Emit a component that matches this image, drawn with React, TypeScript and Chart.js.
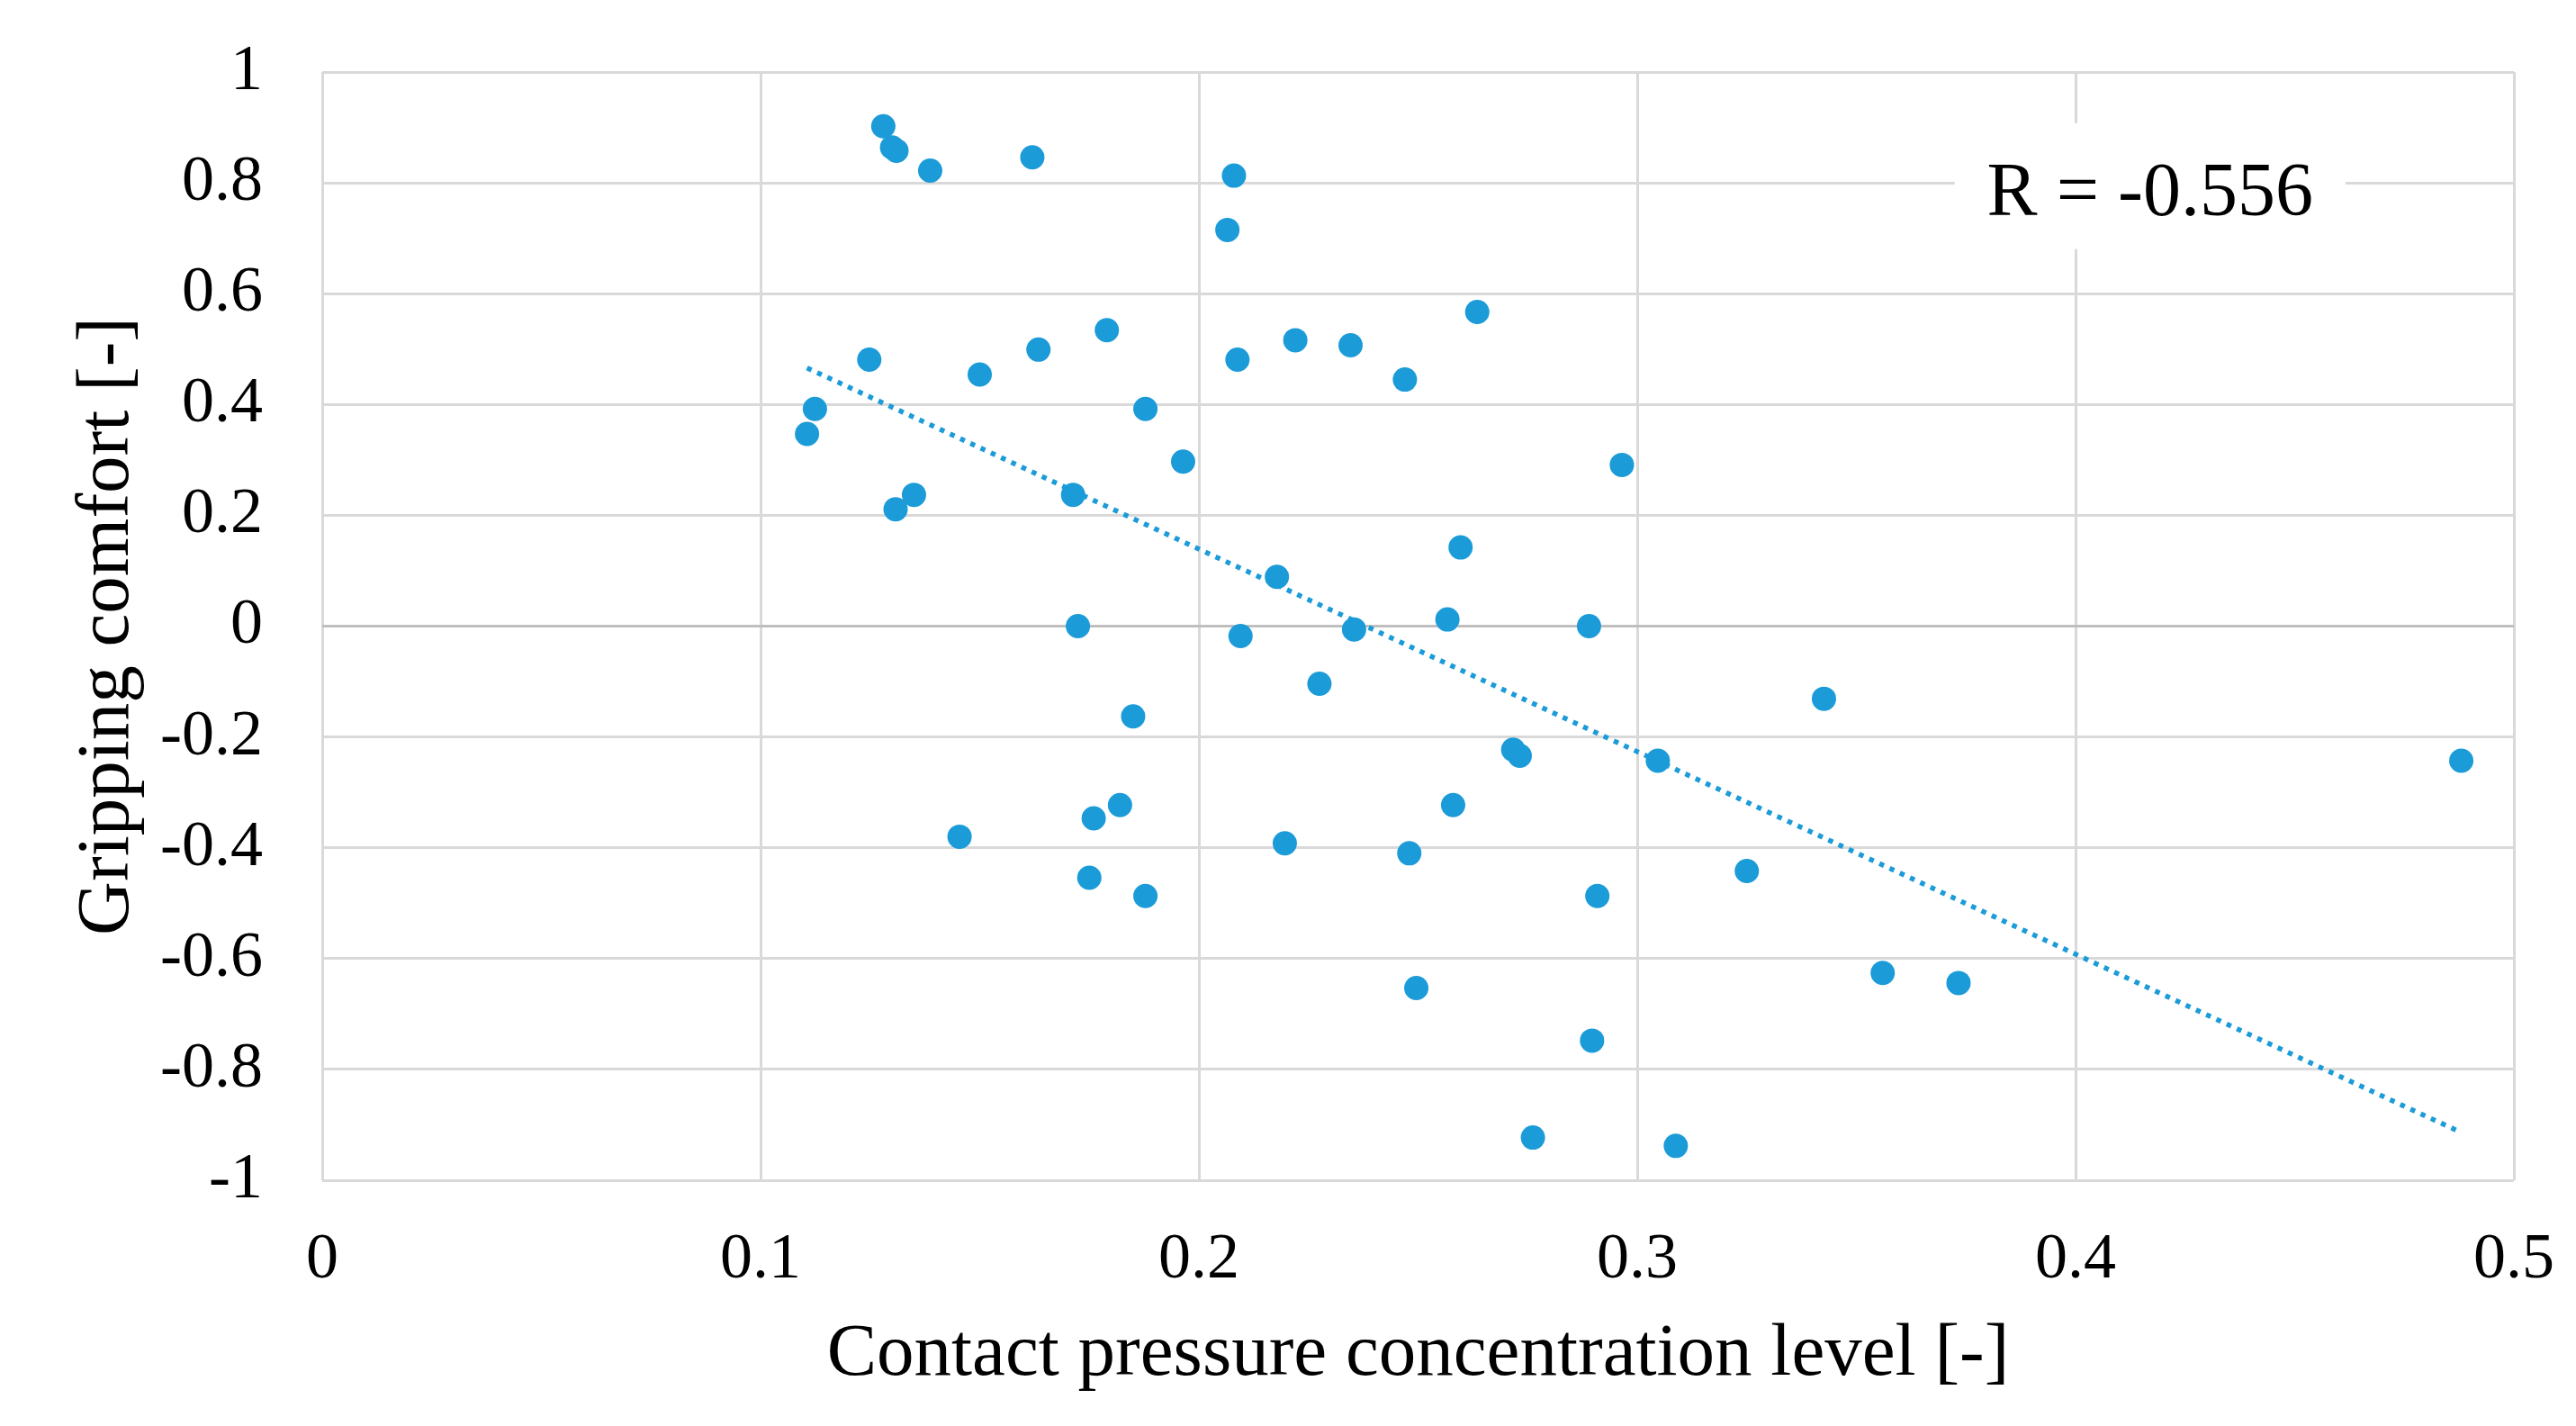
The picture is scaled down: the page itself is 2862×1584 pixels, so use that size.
import React, { useEffect, useRef } from 'react';
import { Chart, registerables } from 'chart.js';

Chart.register(...registerables);

// Contact pressure concentration level [-]
const pressureLevel = [
  0.128, 0.130, 0.131, 0.1387, 0.162, 0.208, 0.2065, 0.2635, 0.179, 0.222,
  0.2346, 0.1248, 0.1634, 0.2088, 0.150, 0.247, 0.1124, 0.1878, 0.1106, 0.1964,
  0.2965, 0.135, 0.1713, 0.1308, 0.2597, 0.2178, 0.1724, 0.2567, 0.289, 0.2354,
  0.2095, 0.2275, 0.3426, 0.185, 0.2717, 0.2732, 0.3047, 0.488, 0.182, 0.258,
  0.176, 0.1454, 0.2196, 0.248, 0.325, 0.175, 0.1878, 0.2909, 0.356, 0.3733,
  0.2496, 0.2897, 0.2762, 0.3088,
];

// Gripping comfort [-]
const grippingComfort = [
  0.902, 0.864, 0.858, 0.822, 0.846, 0.813, 0.715, 0.567, 0.534, 0.516,
  0.507, 0.481, 0.499, 0.481, 0.454, 0.445, 0.392, 0.392, 0.347, 0.297,
  0.291, 0.237, 0.237, 0.211, 0.142, 0.089, 0.0, 0.012, 0.0, -0.006,
  -0.018, -0.104, -0.131, -0.163, -0.223, -0.234, -0.243, -0.243, -0.323, -0.323,
  -0.347, -0.38, -0.392, -0.41, -0.442, -0.454, -0.487, -0.487, -0.626, -0.644,
  -0.653, -0.748, -0.923, -0.938,
];

const xTickValues = [0, 0.1, 0.2, 0.3, 0.4, 0.5];
const yTickValues = [-1, -0.8, -0.6, -0.4, -0.2, 0, 0.2, 0.4, 0.6, 0.8, 1];
const xTitle = 'Contact pressure concentration level [-]';
const yTitle = 'Gripping comfort [-]';
const correlationText = 'R = -0.556';
const correlationAnchor = [0.417, 0.794];

const FONT = "'Liberation Serif', 'Times New Roman', serif";
const BLUE = '#1B9BD8';

function regression(xs: number[], ys: number[]) {
  const n = xs.length;
  const mx = xs.reduce((a, b) => a + b, 0) / n;
  const my = ys.reduce((a, b) => a + b, 0) / n;
  let sxy = 0;
  let sxx = 0;
  for (let i = 0; i < n; i++) {
    sxy += (xs[i] - mx) * (ys[i] - my);
    sxx += (xs[i] - mx) * (xs[i] - mx);
  }
  const slope = sxy / sxx;
  return { slope, intercept: my - slope * mx };
}

const correlationPlugin = {
  id: 'correlationLabel',
  afterDatasetsDraw(chart: any) {
    const { ctx, scales } = chart;
    const cx = scales.x.getPixelForValue(correlationAnchor[0]);
    const cy = scales.y.getPixelForValue(correlationAnchor[1]);
    ctx.save();
    ctx.fillStyle = '#ffffff';
    ctx.fillRect(cx - 217, cy - 70, 434, 140);
    ctx.fillStyle = '#000000';
    ctx.font = `84px ${FONT}`;
    ctx.textAlign = 'center';
    ctx.textBaseline = 'alphabetic';
    ctx.fillText(correlationText, cx, cy + 32);
    ctx.restore();
  },
};

function clearPadding(scale: any) {
  scale.paddingTop = 0;
  scale.paddingBottom = 0;
  scale.paddingLeft = 0;
  scale.paddingRight = 0;
}

export default function App() {
  const canvasRef = useRef<HTMLCanvasElement | null>(null);

  useEffect(() => {
    const canvas = canvasRef.current;
    if (!canvas) return;
    const points = pressureLevel.map((x, i) => ({ x, y: grippingComfort[i] }));
    const { slope, intercept } = regression(pressureLevel, grippingComfort);
    const xMin = Math.min(...pressureLevel);
    const xMax = Math.max(...pressureLevel);
    const trend = [
      { x: xMin, y: intercept + slope * xMin },
      { x: xMax, y: intercept + slope * xMax },
    ];

    const chart = new Chart(canvas, {
      type: 'scatter',
      data: {
        datasets: [
          {
            type: 'line',
            data: trend,
            borderColor: BLUE,
            borderWidth: 5.5,
            borderDash: [5.5, 7],
            pointRadius: 0,
            fill: false,
            order: 0,
          } as any,
          {
            data: points,
            backgroundColor: BLUE,
            borderColor: BLUE,
            borderWidth: 0,
            pointRadius: 13.5,
            order: 1,
          },
        ],
      },
      options: {
        animation: false,
        responsive: false,
        devicePixelRatio: 1,
        layout: { padding: { top: 80, right: 69, left: 0, bottom: 0 } },
        plugins: { legend: { display: false }, tooltip: { enabled: false } },
        scales: {
          x: {
            type: 'linear',
            min: 0,
            max: 0.5,
            afterBuildTicks: (scale: any) => {
              scale.ticks = xTickValues.map((v) => ({ value: v }));
            },
            afterFit: (scale: any) => {
              scale.height = 273;
              clearPadding(scale);
            },
            ticks: {
              font: { family: FONT, size: 72 },
              color: '#000',
              padding: 46,
              maxRotation: 0,
              callback: (v: any) => String(Math.round(Number(v) * 10) / 10),
            },
            grid: { color: '#d9d9d9', lineWidth: 3, drawTicks: false },
            border: { display: false },
            title: {
              display: true,
              text: xTitle,
              font: { family: FONT, size: 83 },
              color: '#000',
              padding: { top: 0, bottom: 29 },
            },
          },
          y: {
            type: 'linear',
            min: -1,
            max: 1,
            afterBuildTicks: (scale: any) => {
              scale.ticks = yTickValues.map((v) => ({ value: v }));
            },
            afterFit: (scale: any) => {
              scale.width = 358;
              clearPadding(scale);
            },
            ticks: {
              font: { family: FONT, size: 72 },
              color: '#000',
              padding: 66,
              callback: (v: any) => String(Math.round(Number(v) * 10) / 10),
            },
            grid: {
              color: (c: any) => (c.tick && Math.abs(c.tick.value) < 1e-9 ? '#bfbfbf' : '#d9d9d9'),
              lineWidth: 3,
              drawTicks: false,
            },
            border: { display: false },
            title: {
              display: true,
              text: yTitle,
              font: { family: FONT, size: 83 },
              color: '#000',
              padding: { top: 70, bottom: 0 },
            },
          },
        },
      },
      plugins: [correlationPlugin],
    });
    return () => chart.destroy();
  }, []);

  return (
    <div style={{ position: 'absolute', left: 0, top: 0, width: 2862, height: 1584, background: '#fff' }}>
      <canvas ref={canvasRef} width={2862} height={1584} style={{ display: 'block' }} />
    </div>
  );
}
